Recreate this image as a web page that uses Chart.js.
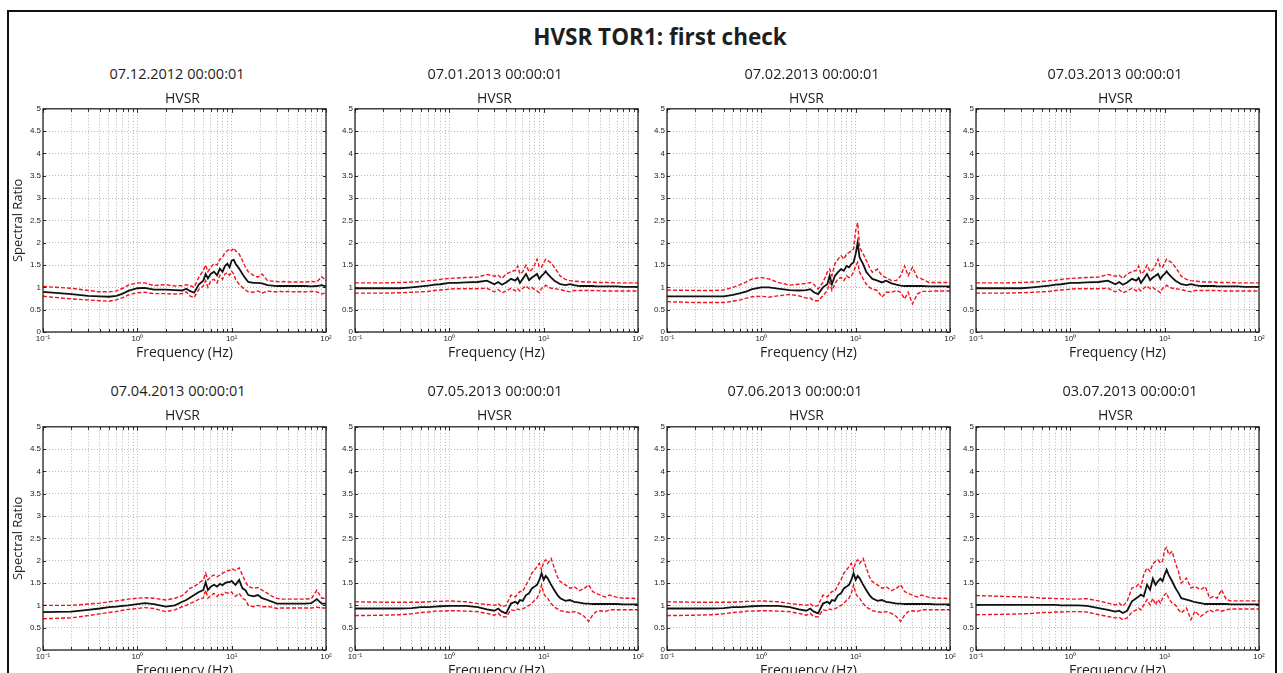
<!DOCTYPE html>
<html>
<head>
<meta charset="utf-8">
<title>HVSR TOR1: first check</title>
<script src="https://cdn.jsdelivr.net/npm/chart.js@4.4.1/dist/chart.umd.min.js"></script>
<style>
  html, body { margin: 0; padding: 0; background: #fff; }
  body { width: 1283px; height: 673px; position: relative; overflow: hidden; font-family: 'Open Sans', sans-serif; color: #1e1e1e; }
  .frame { position: absolute; left: 7px; top: 10px; width: 1266px; height: 720px; border: 2px solid #111; }
  .main-title { position: absolute; top: 22px; left: 0; width: 1320px; text-align: center; font-weight: bold; font-size: 22.5px; line-height: 30px; }
  .lbl { position: absolute; width: 240px; margin-left: -120px; text-align: center; line-height: 18px; white-space: nowrap; }
  .lbl.date { font-size: 14.5px; }
  .lbl.sub { font-size: 14px; }
  .panel { position: absolute; }
</style>
</head>
<body>
<div class="frame"></div>
<div class="main-title">HVSR TOR1: first check</div>
<div id="panels"></div>

<script>
// frequency axis of every HVSR curve (Hz)
const FREQ = [0.1, 0.2, 0.3, 0.4, 0.5, 0.6, 0.7, 0.8,
  1.0, 1.2, 1.5, 2.0, 2.5,
  3.0, 3.3, 3.6, 4.0, 4.5,
  5.0, 5.3, 5.6, 6.0, 6.5,
  7.0, 7.5, 8.0, 8.5, 9.0, 9.5,
  10, 10.5, 11, 12, 13, 14, 15,
  17, 19, 21, 24, 27, 30, 33, 36, 40, 45,
  50, 60, 70, 80, 90, 100];

// log grid (major + minor) and decade labels
const X_TICKS = [0.1, 0.2, 0.3, 0.4, 0.5, 0.6, 0.7, 0.8, 0.9,
  1, 2, 3, 4, 5, 6, 7, 8, 9,
  10, 20, 30, 40, 50, 60, 70, 80, 90, 100];
const X_LABELS = { '0.1': '10⁻¹', '1': '10⁰', '10': '10¹', '100': '10²' };

const DATES = ['07.12.2012 00:00:01', '07.01.2013 00:00:01', '07.02.2013 00:00:01', '07.03.2013 00:00:01',
  '07.04.2013 00:00:01', '07.05.2013 00:00:01', '07.06.2013 00:00:01', '03.07.2013 00:00:01'];

// ---- 07.12.2012 ----
const dec12Mean = [0.90, 0.85, 0.81, 0.80, 0.79, 0.81, 0.86, 0.92,
  0.98, 0.99, 0.95, 0.95, 0.94,
  0.93, 0.97, 0.92, 0.88, 1.07,
  1.15, 1.30, 1.20, 1.30, 1.35,
  1.27, 1.42, 1.35, 1.48, 1.53, 1.45,
  1.60, 1.62, 1.53, 1.42, 1.30, 1.20, 1.12,
  1.10, 1.10, 1.09, 1.05, 1.04, 1.03, 1.03, 1.03, 1.03, 1.03,
  1.03, 1.03, 1.02, 1.03, 1.05, 1.02];
const dec12Upper = [1.02, 0.98, 0.93, 0.90, 0.90, 0.92, 0.98, 1.05,
  1.10, 1.10, 1.04, 1.06, 1.03,
  1.04, 1.06, 1.04, 1.00, 1.23,
  1.38, 1.50, 1.35, 1.45, 1.53,
  1.50, 1.63, 1.68, 1.78, 1.82, 1.86,
  1.82, 1.88, 1.82, 1.75, 1.60, 1.45, 1.35,
  1.27, 1.23, 1.30, 1.15, 1.14, 1.13, 1.12, 1.13, 1.12, 1.12,
  1.12, 1.12, 1.13, 1.12, 1.24, 1.15];
const dec12Lower = [0.80, 0.74, 0.72, 0.70, 0.69, 0.72, 0.77, 0.83,
  0.88, 0.89, 0.86, 0.86, 0.85,
  0.86, 0.90, 0.81, 0.77, 0.96,
  1.03, 1.15, 1.00, 1.15, 1.18,
  1.10, 1.27, 1.18, 1.30, 1.33, 1.27,
  1.36, 1.30, 1.18, 1.07, 1.00, 0.94, 0.90,
  0.89, 0.92, 0.87, 0.92, 0.90, 0.90, 0.91, 0.90, 0.91, 0.90,
  0.90, 0.90, 0.91, 0.90, 0.85, 0.88];

// ---- 07.01.2013 ----
const jan13Mean = [0.98, 0.98, 0.98, 1.00, 1.02, 1.04, 1.06, 1.07,
  1.10, 1.10, 1.11, 1.12, 1.15,
  1.07, 1.12, 1.06, 1.11, 1.19,
  1.15, 1.21, 1.10, 1.19, 1.30,
  1.16, 1.22, 1.26, 1.30, 1.19, 1.26,
  1.30, 1.36, 1.30, 1.22, 1.15, 1.11, 1.07,
  1.05, 1.07, 1.05, 1.03, 1.03, 1.03, 1.03, 1.02, 1.02, 1.02,
  1.02, 1.02, 1.01, 1.01, 1.01, 1.01];
const jan13Upper = [1.10, 1.10, 1.11, 1.12, 1.13, 1.15, 1.16, 1.18,
  1.20, 1.21, 1.22, 1.23, 1.29,
  1.25, 1.27, 1.20, 1.30, 1.35,
  1.38, 1.48, 1.30, 1.35, 1.50,
  1.35, 1.40, 1.50, 1.63, 1.45, 1.45,
  1.55, 1.63, 1.60, 1.55, 1.45, 1.35, 1.25,
  1.18, 1.15, 1.14, 1.13, 1.12, 1.12, 1.12, 1.11, 1.11, 1.11,
  1.11, 1.10, 1.10, 1.10, 1.10, 1.10];
const jan13Lower = [0.87, 0.87, 0.88, 0.89, 0.90, 0.91, 0.93, 0.94,
  0.96, 0.97, 0.97, 0.97, 0.98,
  0.90, 0.95, 0.88, 0.92, 0.98,
  0.92, 0.97, 0.92, 0.98, 1.03,
  0.97, 1.00, 0.95, 0.92, 0.88, 0.98,
  1.00, 1.05, 1.02, 0.98, 0.97, 0.96, 0.95,
  0.92, 0.90, 0.93, 0.93, 0.93, 0.93, 0.93, 0.93, 0.92, 0.92,
  0.92, 0.92, 0.92, 0.92, 0.92, 0.92];

// ---- 07.02.2013 ----
const feb13Mean = [0.80, 0.80, 0.80, 0.80, 0.83, 0.87, 0.91, 0.96,
  1.00, 1.00, 0.97, 0.94, 0.93,
  0.94, 0.96, 0.89, 0.85, 1.00,
  1.07, 1.26, 1.07, 1.25, 1.34,
  1.41, 1.37, 1.48, 1.45, 1.52, 1.56,
  1.75, 2.00, 1.67, 1.52, 1.34, 1.26, 1.19,
  1.15, 1.11, 1.15, 1.09, 1.06, 1.04, 1.03, 1.03, 1.03, 1.03,
  1.03, 1.02, 1.02, 1.02, 1.02, 1.02];
const feb13Upper = [0.94, 0.93, 0.93, 0.94, 1.00, 1.06, 1.13, 1.19,
  1.22, 1.19, 1.11, 1.05, 1.07,
  1.09, 1.11, 1.07, 0.96, 1.11,
  1.34, 1.41, 1.26, 1.52, 1.63,
  1.71, 1.63, 1.75, 1.78, 1.82, 1.86,
  2.27, 2.45, 1.90, 1.75, 1.60, 1.45, 1.34,
  1.41, 1.26, 1.22, 1.15, 1.15, 1.26, 1.48, 1.26, 1.45, 1.22,
  1.19, 1.11, 1.11, 1.11, 1.11, 1.10];
const feb13Lower = [0.68, 0.66, 0.66, 0.66, 0.69, 0.72, 0.76, 0.79,
  0.80, 0.78, 0.81, 0.84, 0.81,
  0.76, 0.76, 0.70, 0.70, 0.81,
  0.93, 1.11, 0.93, 1.07, 1.19,
  1.22, 1.15, 1.26, 1.22, 1.26, 1.34,
  1.48, 1.56, 1.34, 1.19, 1.07, 1.00, 0.96,
  0.93, 0.78, 0.89, 0.89, 0.93, 0.89, 0.74, 0.89, 0.63, 0.85,
  0.91, 0.91, 0.92, 0.92, 0.92, 0.92];

// ---- 07.03.2013 ----
const mar13Mean = [0.98, 0.98, 0.98, 1.00, 1.02, 1.04, 1.06, 1.07,
  1.10, 1.10, 1.11, 1.12, 1.15,
  1.07, 1.12, 1.06, 1.11, 1.19,
  1.15, 1.21, 1.10, 1.19, 1.30,
  1.16, 1.22, 1.26, 1.30, 1.19, 1.26,
  1.30, 1.36, 1.30, 1.22, 1.15, 1.11, 1.07,
  1.05, 1.07, 1.05, 1.03, 1.03, 1.03, 1.03, 1.02, 1.02, 1.02,
  1.02, 1.02, 1.01, 1.01, 1.01, 1.01];
const mar13Upper = [1.10, 1.10, 1.11, 1.12, 1.13, 1.15, 1.16, 1.18,
  1.20, 1.21, 1.22, 1.23, 1.29,
  1.25, 1.27, 1.20, 1.30, 1.35,
  1.38, 1.48, 1.30, 1.35, 1.50,
  1.35, 1.40, 1.50, 1.63, 1.45, 1.45,
  1.55, 1.63, 1.60, 1.55, 1.45, 1.35, 1.25,
  1.18, 1.15, 1.14, 1.13, 1.12, 1.12, 1.12, 1.11, 1.11, 1.11,
  1.11, 1.10, 1.10, 1.10, 1.10, 1.10];
const mar13Lower = [0.87, 0.87, 0.88, 0.89, 0.90, 0.91, 0.93, 0.94,
  0.96, 0.97, 0.97, 0.97, 0.98,
  0.90, 0.95, 0.88, 0.92, 0.98,
  0.92, 0.97, 0.92, 0.98, 1.03,
  0.97, 1.00, 0.95, 0.92, 0.88, 0.98,
  1.00, 1.05, 1.02, 0.98, 0.97, 0.96, 0.95,
  0.92, 0.90, 0.93, 0.93, 0.93, 0.93, 0.93, 0.93, 0.92, 0.92,
  0.92, 0.92, 0.92, 0.92, 0.92, 0.92];

// ---- 07.04.2013 ----
const apr13Mean = [0.85, 0.86, 0.90, 0.93, 0.96, 0.97, 0.99, 1.00,
  1.03, 1.05, 1.03, 0.97, 1.00,
  1.08, 1.12, 1.17, 1.23, 1.30,
  1.34, 1.52, 1.34, 1.42, 1.46,
  1.42, 1.48, 1.45, 1.50, 1.52, 1.52,
  1.55, 1.50, 1.46, 1.57, 1.38, 1.34, 1.23,
  1.20, 1.23, 1.16, 1.12, 1.08, 1.04, 1.04, 1.04, 1.04, 1.04,
  1.04, 1.04, 1.05, 1.14, 1.04, 1.04];
const apr13Upper = [1.00, 1.00, 1.03, 1.05, 1.08, 1.10, 1.12, 1.14,
  1.16, 1.17, 1.16, 1.12, 1.16,
  1.22, 1.30, 1.38, 1.42, 1.50,
  1.57, 1.72, 1.57, 1.64, 1.68,
  1.64, 1.68, 1.72, 1.75, 1.78, 1.78,
  1.82, 1.80, 1.78, 1.84, 1.68, 1.53, 1.42,
  1.38, 1.40, 1.34, 1.27, 1.20, 1.16, 1.14, 1.14, 1.14, 1.14,
  1.14, 1.14, 1.15, 1.34, 1.16, 1.16];
const apr13Lower = [0.70, 0.72, 0.77, 0.81, 0.84, 0.86, 0.89, 0.91,
  0.93, 0.95, 0.93, 0.86, 0.90,
  0.97, 1.00, 1.04, 1.08, 1.14,
  1.16, 1.34, 1.16, 1.22, 1.27,
  1.20, 1.27, 1.23, 1.29, 1.27, 1.29,
  1.30, 1.23, 1.20, 1.27, 1.16, 1.12, 1.00,
  0.97, 1.00, 0.97, 0.97, 0.96, 0.93, 0.94, 0.94, 0.94, 0.94,
  0.94, 0.94, 0.94, 0.96, 0.94, 0.94];

// ---- 07.05.2013 ----
const may13Mean = [0.93, 0.93, 0.93, 0.94, 0.96, 0.96, 0.97, 0.98,
  0.99, 0.99, 0.99, 0.96, 0.91,
  0.88, 0.93, 0.86, 0.82, 1.04,
  1.08, 1.04, 1.12, 1.10, 1.23,
  1.27, 1.38, 1.42, 1.46, 1.57, 1.72,
  1.57, 1.66, 1.61, 1.46, 1.34, 1.23, 1.16,
  1.10, 1.12, 1.08, 1.06, 1.04, 1.04, 1.03, 1.03, 1.03, 1.03,
  1.03, 1.03, 1.02, 1.02, 1.02, 1.02];
const may13Upper = [1.08, 1.07, 1.07, 1.07, 1.07, 1.08, 1.09, 1.09,
  1.10, 1.09, 1.08, 1.04, 1.02,
  1.00, 1.04, 0.97, 1.00, 1.23,
  1.19, 1.25, 1.31, 1.31, 1.46,
  1.57, 1.72, 1.79, 1.87, 1.94, 1.79,
  1.98, 2.02, 1.94, 2.05, 1.83, 1.64, 1.53,
  1.46, 1.38, 1.42, 1.33, 1.38, 1.46, 1.31, 1.27, 1.23, 1.19,
  1.23, 1.18, 1.16, 1.16, 1.16, 1.13];
const may13Lower = [0.77, 0.78, 0.79, 0.81, 0.84, 0.85, 0.87, 0.87,
  0.88, 0.88, 0.87, 0.86, 0.82,
  0.78, 0.82, 0.75, 0.74, 0.90,
  0.88, 0.92, 0.90, 0.92, 0.96,
  1.00, 1.04, 1.12, 1.16, 1.27, 1.46,
  1.27, 1.19, 1.16, 1.04, 0.96, 0.92, 0.88,
  0.86, 0.84, 0.86, 0.82, 0.75, 0.64, 0.78, 0.86, 0.88, 0.86,
  0.90, 0.90, 0.90, 0.90, 0.90, 0.90];

// ---- 07.06.2013 ----
const jun13Mean = [0.93, 0.93, 0.93, 0.94, 0.96, 0.96, 0.97, 0.98,
  0.99, 0.99, 0.99, 0.96, 0.91,
  0.88, 0.93, 0.86, 0.82, 1.04,
  1.08, 1.04, 1.12, 1.10, 1.23,
  1.27, 1.38, 1.42, 1.46, 1.57, 1.72,
  1.57, 1.66, 1.61, 1.46, 1.34, 1.23, 1.16,
  1.10, 1.12, 1.08, 1.06, 1.04, 1.04, 1.03, 1.03, 1.03, 1.03,
  1.03, 1.03, 1.02, 1.02, 1.02, 1.02];
const jun13Upper = [1.08, 1.07, 1.07, 1.07, 1.07, 1.08, 1.09, 1.09,
  1.10, 1.09, 1.08, 1.04, 1.02,
  1.00, 1.04, 0.97, 1.00, 1.23,
  1.19, 1.25, 1.31, 1.31, 1.46,
  1.57, 1.72, 1.79, 1.87, 1.94, 1.79,
  1.98, 2.02, 1.94, 2.05, 1.83, 1.64, 1.53,
  1.46, 1.38, 1.42, 1.33, 1.38, 1.46, 1.31, 1.27, 1.23, 1.19,
  1.23, 1.18, 1.16, 1.16, 1.16, 1.13];
const jun13Lower = [0.77, 0.78, 0.79, 0.81, 0.84, 0.85, 0.87, 0.87,
  0.88, 0.88, 0.87, 0.86, 0.82,
  0.78, 0.82, 0.75, 0.74, 0.90,
  0.88, 0.92, 0.90, 0.92, 0.96,
  1.00, 1.04, 1.12, 1.16, 1.27, 1.46,
  1.27, 1.19, 1.16, 1.04, 0.96, 0.92, 0.88,
  0.86, 0.84, 0.86, 0.82, 0.75, 0.64, 0.78, 0.86, 0.88, 0.86,
  0.90, 0.90, 0.90, 0.90, 0.90, 0.90];

// ---- 03.07.2013 ----
const jul13Mean = [1.01, 1.01, 1.01, 1.01, 1.01, 1.01, 1.01, 1.00,
  1.00, 1.00, 0.99, 0.94, 0.90,
  0.86, 0.88, 0.83, 0.88, 1.09,
  1.16, 1.20, 1.24, 1.20, 1.46,
  1.35, 1.60, 1.46, 1.54, 1.60, 1.54,
  1.69, 1.80, 1.69, 1.54, 1.39, 1.28, 1.16,
  1.13, 1.10, 1.07, 1.05, 1.03, 1.03, 1.03, 1.03, 1.03, 1.03,
  1.02, 1.02, 1.02, 1.02, 1.02, 1.02];
const jul13Upper = [1.22, 1.20, 1.19, 1.18, 1.16, 1.16, 1.15, 1.15,
  1.14, 1.14, 1.15, 1.10, 1.05,
  1.01, 1.05, 0.98, 1.09, 1.39,
  1.42, 1.48, 1.40, 1.69, 1.84,
  1.76, 1.93, 1.99, 2.02, 1.95, 1.99,
  2.25, 2.30, 2.14, 2.21, 1.95, 1.76, 1.50,
  1.61, 1.39, 1.42, 1.35, 1.42, 1.16, 1.20, 1.16, 1.35, 1.13,
  1.10, 1.10, 1.10, 1.10, 1.10, 1.10];
const jul13Lower = [0.79, 0.80, 0.81, 0.82, 0.84, 0.84, 0.85, 0.85,
  0.86, 0.86, 0.85, 0.79, 0.75,
  0.72, 0.73, 0.68, 0.72, 0.85,
  0.90, 0.94, 0.90, 1.01, 1.13,
  1.01, 1.16, 1.01, 1.13, 1.05, 1.16,
  1.24, 1.28, 1.16, 1.05, 1.01, 0.90, 0.83,
  0.94, 0.68, 0.87, 0.75, 0.83, 0.90, 0.85, 0.90, 0.87, 0.90,
  0.92, 0.92, 0.92, 0.92, 0.92, 0.92];

const MEANS = [dec12Mean, jan13Mean, feb13Mean, mar13Mean, apr13Mean, may13Mean, jun13Mean, jul13Mean];
const UPPERS = [dec12Upper, jan13Upper, feb13Upper, mar13Upper, apr13Upper, may13Upper, jun13Upper, jul13Upper];
const LOWERS = [dec12Lower, jan13Lower, feb13Lower, mar13Lower, apr13Lower, may13Lower, jun13Lower, jul13Lower];

// page layout (plot-area corners, label centres)
const PLOT_W = 283, PLOT_H = 224;
const AXIS_W = 40, AXIS_H = 32, PAD_TOP = 6, PAD_RIGHT = 12;
const COL_X = [43, 355, 667, 976];
const ROW_Y = [108, 426];
const DATE_POS = [[177, 74], [495, 74], [812, 74], [1115, 74], [178, 391], [495, 391], [795, 391], [1130, 391]];
const SUB_Y = [98, 415];

// plot box + inward tick marks, matlab style
const axesBox = {
  id: 'axesBox',
  afterDraw(chart) {
    const { ctx, chartArea: a, scales } = chart;
    ctx.save();
    ctx.strokeStyle = '#262626';
    ctx.lineWidth = 1;
    ctx.beginPath();
    X_TICKS.forEach(v => {
      const px = Math.round(scales.x.getPixelForValue(v)) + 0.5;
      const len = X_LABELS[String(v)] ? 4 : 3;
      ctx.moveTo(px, a.top); ctx.lineTo(px, a.top + len);
      ctx.moveTo(px, a.bottom); ctx.lineTo(px, a.bottom - len);
    });
    scales.y.ticks.forEach(t => {
      const py = Math.round(scales.y.getPixelForValue(t.value)) + 0.5;
      ctx.moveTo(a.left, py); ctx.lineTo(a.left + 3, py);
      ctx.moveTo(a.right, py); ctx.lineTo(a.right - 3, py);
    });
    ctx.stroke();
    ctx.lineWidth = 1.3;
    ctx.strokeRect(a.left, a.top, a.right - a.left, a.bottom - a.top);
    ctx.restore();
  }
};

function toPoints(values) {
  return FREQ.map((f, i) => ({ x: f, y: values[i] }));
}

function addLabel(cls, text, cx, cy) {
  const el = document.createElement('div');
  el.className = 'lbl ' + cls;
  el.textContent = text;
  el.style.left = cx + 'px';
  el.style.top = (cy - 9) + 'px';
  document.body.appendChild(el);
}

function drawPanel(i) {
  const col = i % 4, row = Math.floor(i / 4);
  const left = COL_X[col] - AXIS_W;
  const top = ROW_Y[row] - PAD_TOP;
  const w = AXIS_W + PLOT_W + PAD_RIGHT;
  const h = PAD_TOP + PLOT_H + AXIS_H;

  addLabel('date', DATES[i], DATE_POS[i][0], DATE_POS[i][1]);
  addLabel('sub', 'HVSR', COL_X[col] + PLOT_W / 2 - 2, SUB_Y[row]);

  const box = document.createElement('div');
  box.className = 'panel';
  box.style.left = left + 'px';
  box.style.top = top + 'px';
  const canvas = document.createElement('canvas');
  canvas.width = w;
  canvas.height = h;
  box.appendChild(canvas);
  document.getElementById('panels').appendChild(box);

  const dashed = { borderColor: '#f0141e', borderWidth: 1.4, borderDash: [4, 2], pointRadius: 0, fill: false };

  new Chart(canvas.getContext('2d'), {
    type: 'line',
    data: {
      datasets: [
        { label: 'H/V', data: toPoints(MEANS[i]), borderColor: '#111', borderWidth: 1.8, pointRadius: 0, fill: false },
        Object.assign({ label: 'H/V + std', data: toPoints(UPPERS[i]) }, dashed),
        Object.assign({ label: 'H/V - std', data: toPoints(LOWERS[i]) }, dashed)
      ]
    },
    options: {
      responsive: false,
      animation: false,
      layout: { padding: { top: PAD_TOP, right: PAD_RIGHT, left: 0, bottom: 0 } },
      plugins: { legend: { display: false }, tooltip: { enabled: false } },
      scales: {
        x: {
          type: 'logarithmic',
          min: 0.1,
          max: 100,
          afterBuildTicks: s => { s.ticks = X_TICKS.map(v => ({ value: v })); },
          afterFit: s => { s.height = AXIS_H; },
          ticks: {
            autoSkip: false, maxRotation: 0, padding: 2, color: '#222',
            font: { family: 'Liberation Sans', size: 8 },
            callback: v => X_LABELS[String(v)] || ''
          },
          grid: { color: '#b9b9b9', lineWidth: 1, drawTicks: false },
          border: { display: false, dash: [1, 2] },
          title: {
            display: true, text: 'Frequency (Hz)', color: '#1e1e1e',
            font: { family: 'Open Sans', size: 14 }, padding: { top: 0, bottom: 3 }
          }
        },
        y: {
          min: 0,
          max: 5,
          afterFit: s => { s.width = AXIS_W; },
          ticks: {
            stepSize: 0.5, padding: 2, color: '#222',
            font: { family: 'Liberation Sans', size: 8 },
            callback: v => String(Math.round(v * 10) / 10)
          },
          grid: { color: '#b9b9b9', lineWidth: 1, drawTicks: false },
          border: { display: false, dash: [1, 2] },
          title: {
            display: col === 0, text: 'Spectral Ratio', color: '#1e1e1e',
            font: { family: 'Open Sans', size: 13 }, padding: { top: 7, bottom: 0 }
          }
        }
      }
    },
    plugins: [axesBox]
  });
}

for (let i = 0; i < 8; i++) drawPanel(i);
</script>
</body>
</html>
